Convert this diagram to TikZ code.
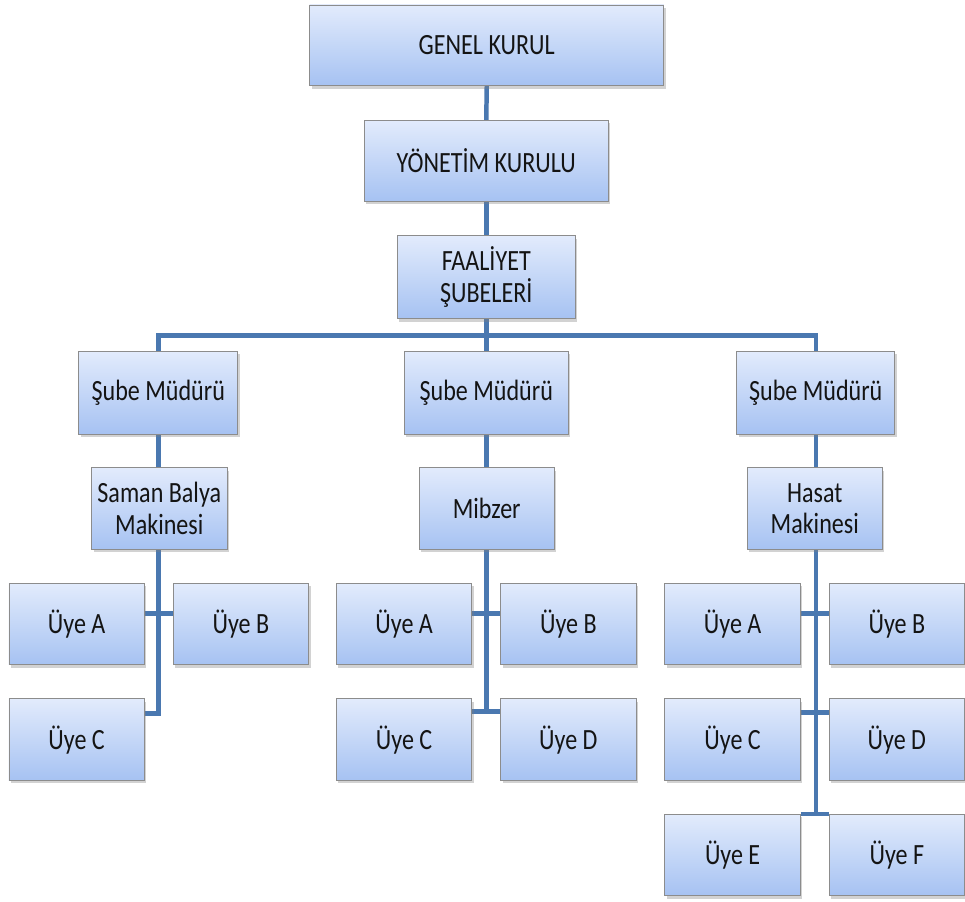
\documentclass[tikz,border=0pt]{standalone}
\usepackage{fontspec}
\setmainfont{Carlito}[FakeStretch=0.82]
\usetikzlibrary{shadows,calc}
\pgfdeclarelayer{bg}
\pgfsetlayers{bg,main}
\definecolor{linec}{HTML}{4A78B0}
\definecolor{topc}{HTML}{E2EBFC}
\definecolor{botc}{HTML}{A6C2F2}
\definecolor{edgec}{HTML}{8C8C8C}
\definecolor{txtc}{HTML}{141414}
\tikzset{
  box/.style={rectangle, draw=edgec, line width=0.9pt, top color=topc, bottom color=botc,
    drop shadow={opacity=0.35, shadow xshift=2pt, shadow yshift=-3pt},
    align=center, text=txtc, inner sep=2pt,
    font=\fontsize{29.5}{32}\selectfont},
  member/.style={box, minimum width=136pt, minimum height=82pt},
  link/.style={draw=linec, line width=4.5pt}
}
\begin{document}
\begin{tikzpicture}[x=1pt,y=-1pt]
\begin{pgfonlayer}{bg}
\useasboundingbox[fill=white] (0,0) rectangle (965,906);
\end{pgfonlayer}
% top chain
\node[box, minimum width=356pt, minimum height=81pt] (gk) at (489,45.5) {GENEL KURUL};
\node[box, minimum width=245pt, minimum height=81pt] (yk) at (488.5,161.5) {YÖNETİM KURULU};
\node[box, minimum width=179pt, minimum height=83pt] (fs) at (488.5,278.5) {FAALİYET\\ŞUBELERİ};
% branch managers
\node[box, minimum width=160pt, minimum height=83pt] (s1) at (159,394.5) {Şube Müdürü};
\node[box, minimum width=165pt, minimum height=83pt] (s2) at (488.5,394.5) {Şube Müdürü};
\node[box, minimum width=159pt, minimum height=83pt] (s3) at (819.5,394.5) {Şube Müdürü};
% machines
\node[box, minimum width=136pt, minimum height=82pt] (m1) at (160,511) {Saman Balya\\Makinesi};
\node[box, minimum width=136pt, minimum height=82pt] (m2) at (489,511) {Mibzer};
\node[box, minimum width=136pt, minimum height=82pt] (m3) at (818.5,511) {Hasat\\Makinesi};
% members left
\node[member] (la) at (77,627) {Üye A};
\node[member] (lb) at (242,627) {Üye B};
\node[member] (lc) at (77,743) {Üye C};
% members middle
\node[member] (ma) at (406,627) {Üye A};
\node[member] (mb) at (571,627) {Üye B};
\node[member] (mc) at (406,743) {Üye C};
\node[member] (md) at (571,743) {Üye D};
% members right
\node[member] (ra) at (736,627) {Üye A};
\node[member] (rb) at (901,627) {Üye B};
\node[member] (rc) at (736,743) {Üye C};
\node[member] (rd) at (901,743) {Üye D};
\node[member] (re) at (736,859) {Üye E};
\node[member] (rf) at (901,859) {Üye F};
% connectors behind boxes
\begin{pgfonlayer}{bg}
\coordinate (bus) at (488.5,337);
\draw[link] (gk.south) -- (yk.north);
\draw[link] (yk.south) -- (fs.north);
\draw[link] (fs.south) -- (bus);
\draw[link, line join=miter] (s1.north) |- (bus) -| (s3.north);
\draw[link] (bus) -- (s2.north);
\draw[link] (s1.south) -- (m1.north -| s1.south);
\draw[link] (s2.south) -- (m2.north -| s2.south);
\draw[link] (s3.south) -- (m3.north -| s3.south);
% left group
\coordinate (lj1) at ($(la.north east)+(0,31)$);
\coordinate (lj2) at ($(lc.north east)+(0,15)$);
\draw[link, line join=miter] (m1.south -| s1.south) |- (lj2);
\draw[link] (lj1) -- (lj1 -| lb.west);
% middle group
\coordinate (mj1) at ($(ma.north east)+(0,31)$);
\coordinate (mj2) at ($(mc.north east)+(0,13)$);
\draw[link] (m2.south -| s2.south) -- (mj2 -| s2.south);
\draw[link] (mj1) -- (mj1 -| mb.west);
\draw[link] (mj2) -- (mj2 -| md.west);
% right group
\coordinate (rj1) at ($(ra.north east)+(0,31)$);
\coordinate (rj2) at ($(rc.north east)+(0,14)$);
\coordinate (rj3) at ($(re.north east)+(0,0)$);
\draw[link] (m3.south -| s3.south) -- (rj3 -| s3.south);
\draw[link] (rj1) -- (rj1 -| rb.west);
\draw[link] (rj2) -- (rj2 -| rd.west);
\draw[link] (rj3) -- (rj3 -| rf.west);
\end{pgfonlayer}
\end{tikzpicture}
\end{document}
